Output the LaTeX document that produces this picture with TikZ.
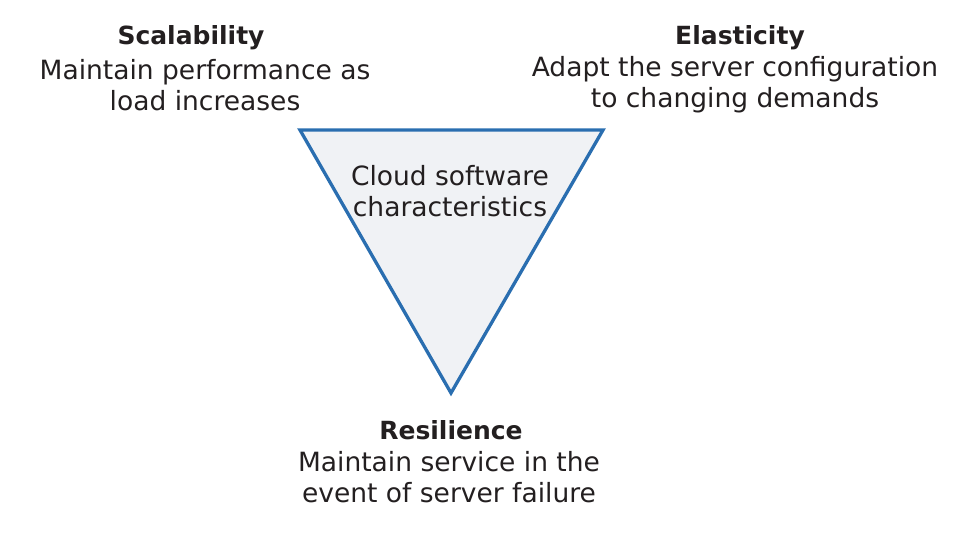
\documentclass[tikz,border=0pt]{standalone}
\usepackage{fontspec}
\setmainfont{DejaVu Sans}
\usetikzlibrary{positioning}
\definecolor{triblue}{HTML}{2A6EB0}
\definecolor{trifill}{HTML}{F0F2F5}
\definecolor{txtgray}{HTML}{231F20}

\begin{document}
\begin{tikzpicture}[x=1pt,y=-1pt]
	\tikzstyle{every node}=[text=txtgray,font=\fontsize{26.5}{31}\selectfont,inner sep=0pt]
	\tikzstyle{title}=[font=\fontsize{25}{31}\selectfont\bfseries]
	\tikzstyle{desc}=[align=center]
	\useasboundingbox (0,0) rectangle (967,541);
	% triangle
	\coordinate (tl) at (300,130);
	\coordinate (tr) at (603,130);
	\coordinate (bt) at (451,393);
	\draw[triblue,fill=trifill,line width=3.3pt,line join=miter] (tl) -- (tr) -- (bt) -- cycle;
	\node[desc] (cloud) at (450,191) {Cloud software\\characteristics};
	% corners
	\node[title] (scal) at (191,38) {Scalability};
	\node[desc] (scaltext) at (205,85) {Maintain performance as\\load increases};
	\node[title] (elas) at (740,38) {Elasticity};
	\node[desc] (elastext) at (735,85) {Adapt the server configuration\\to changing demands};
	\node[title] (resi) at (451,430) {Resilience};
	\node[desc] (resitext) at (449,477) {Maintain service in the\\event of server failure};
\end{tikzpicture}
\end{document}
